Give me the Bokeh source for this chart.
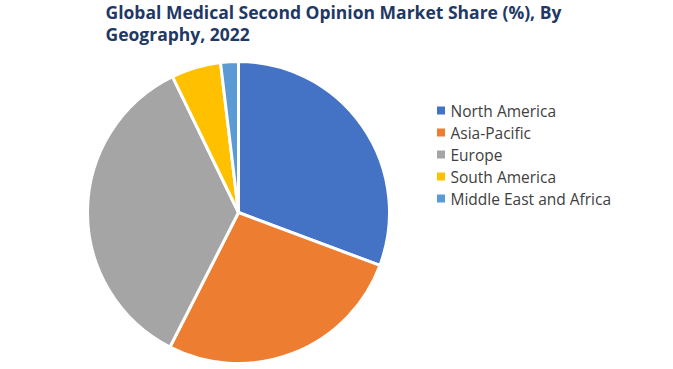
import numpy as np
from bokeh.plotting import figure
from bokeh.models import Range1d, ColumnDataSource
from bokeh.core.properties import value
from bokeh.embed import file_html
from bokeh.resources import INLINE

title_lines = ["Global Medical Second Opinion Market Share (%), By", "Geography, 2022"]
regions = ["North America", "Asia-Pacific", "Europe", "South America", "Middle East and Africa"]
shares = [30.7, 26.8, 35.3, 5.3, 1.9]
colors = ["#4472C4", "#ED7D31", "#A5A5A5", "#FFC000", "#5B9BD5"]

W, H = 673, 369
p = figure(width=W, height=H, output_backend="svg", toolbar_location=None,
           x_range=Range1d(0, W), y_range=Range1d(0, H),
           x_axis_location=None, y_axis_location=None, min_border=0,
           tools="")
p.grid.visible = False
p.outline_line_color = None
p.background_fill_color = "white"

frac = np.array(shares) / np.sum(shares)
cum = np.cumsum(frac)
start = np.pi / 2 - 2 * np.pi * (cum - frac)
end = np.pi / 2 - 2 * np.pi * cum
src = ColumnDataSource(dict(region=regions, start=start, end=end, color=colors))

cx, cy, r = 238, H - 212, 151
p.wedge(x=cx, y=cy, radius=r, start_angle="start", end_angle="end", direction="clock",
        fill_color="color", line_color="white", line_width=3, source=src)

# legend
ys = [H - (110 + i * 22) for i in range(len(regions))]
p.scatter(x=[440.5] * len(regions), y=ys, marker="square", size=8, color=colors, line_color=None)
p.text(x=[450] * len(regions), y=ys, text=regions, text_font=value("Open Sans"),
       text_font_size="15.5px", text_color="#404040", text_baseline="middle")

# title
p.text(x=[105, 105], y=[H - 11, H - 33], text=title_lines, text_font=value("Open Sans"),
       text_font_style="bold", text_font_size="17.5px", text_color="#1F3864",
       text_baseline="middle")

open("out.html", "w").write(file_html(p, INLINE))
